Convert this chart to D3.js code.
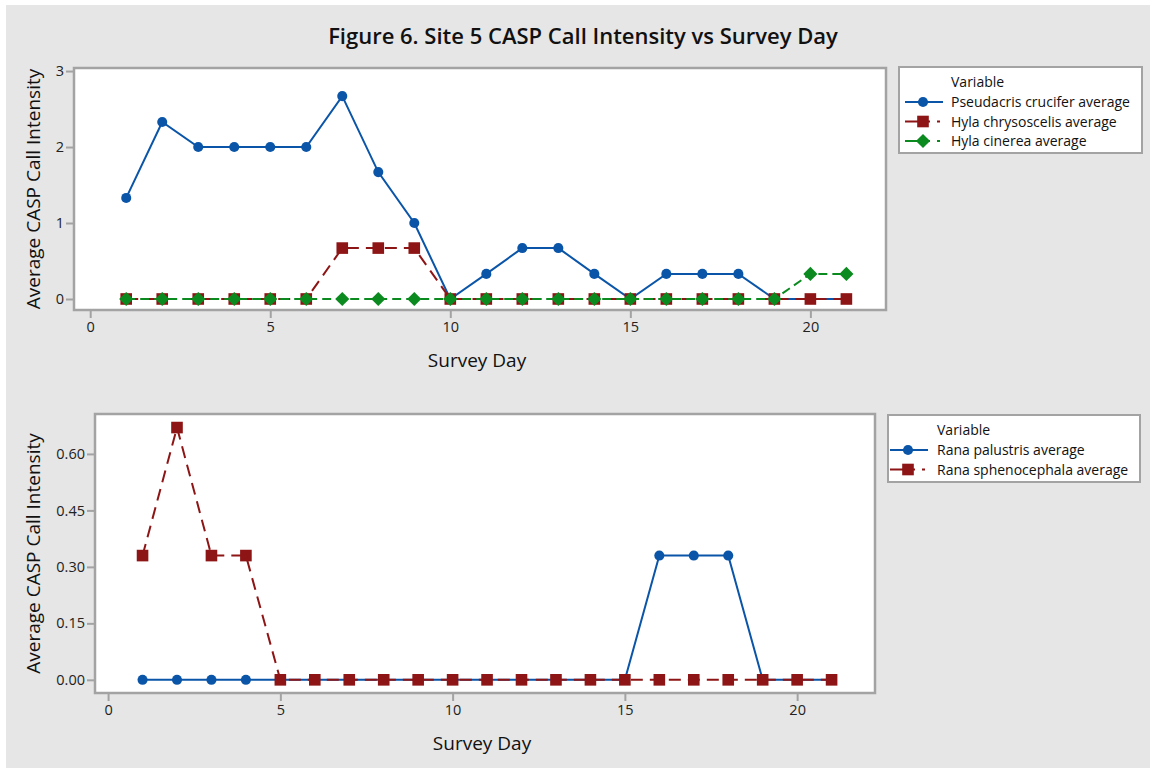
<!DOCTYPE html>
<html>
<head>
<meta charset="utf-8">
<script src="https://cdn.jsdelivr.net/npm/d3@7"></script>
<style>
  body { margin: 0; background: #fff; }
  text { font-family: "Open Sans", "Noto Sans", sans-serif; fill: #111; }
</style>
</head>
<body>
<div id="chart"></div>
<script>
// survey days 1..21
var days = [1,2,3,4,5,6,7,8,9,10,11,12,13,14,15,16,17,18,19,20,21];

// top panel series
var pseudacrisCrucifer = [1.33,2.33,2,2,2,2,2.67,1.67,1,0,0.33,0.67,0.67,0.33,0,0.33,0.33,0.33,0,0,0];
var hylaChrysoscelis   = [0,0,0,0,0,0,0.67,0.67,0.67,0,0,0,0,0,0,0,0,0,0,0,0];
var hylaCinerea        = [0,0,0,0,0,0,0,0,0,0,0,0,0,0,0,0,0,0,0,0.33,0.33];

// bottom panel series
var ranaPalustris      = [0,0,0,0,0,0,0,0,0,0,0,0,0,0,0,0.33,0.33,0.33,0,0,0];
var ranaSphenocephala  = [0.33,0.67,0.33,0.33,0,0,0,0,0,0,0,0,0,0,0,0,0,0,0,0,0];

var xTicks = [0,5,10,15,20];
var yTicksTop = [0,1,2,3];
var yTicksBottom = [0,0.15,0.30,0.45,0.60];

var BLUE = "#0a55a8", RED = "#8e1515", GREEN = "#0b8a1f";

var svg = d3.select("#chart").append("svg")
    .attr("width", 1150).attr("height", 768);

svg.append("rect").attr("x", 6).attr("y", 5).attr("width", 1144).attr("height", 763)
    .attr("fill", "#e6e6e6");

svg.append("text").attr("x", 583).attr("y", 44)
    .attr("text-anchor", "middle")
    .style("font-size", "22px").style("font-weight", 600)
    .text("Figure 6. Site 5 CASP Call Intensity vs Survey Day");

// square diamond (d3's own is stretched)
var squareDiamond = {
    draw: function(ctx, size) {
        var r = Math.sqrt(size / 2);
        ctx.moveTo(0, -r); ctx.lineTo(r, 0); ctx.lineTo(0, r); ctx.lineTo(-r, 0); ctx.closePath();
    }
};

var symbols = {
    circle:  d3.symbol().type(d3.symbolCircle).size(80),
    square:  d3.symbol().type(d3.symbolSquare).size(135),
    diamond: d3.symbol().type(squareDiamond).size(100)
};

function panel(opt) {
    var x = d3.scaleLinear().domain(opt.xDomain).range([opt.left, opt.right]);
    var y = d3.scaleLinear().domain(opt.yDomain).range([opt.bottom, opt.top]);
    var g = svg.append("g");

    g.append("rect")
        .attr("x", opt.left).attr("y", opt.top)
        .attr("width", opt.right - opt.left).attr("height", opt.bottom - opt.top)
        .attr("fill", "#fff").attr("stroke", "#a3a3a3").attr("stroke-width", 2.5);

    var xAxis = g.append("g")
        .attr("transform", "translate(0," + (opt.bottom + 1) + ")")
        .call(d3.axisBottom(x).tickValues(xTicks).tickSize(7).tickSizeOuter(0).tickPadding(4));
    var yAxis = g.append("g")
        .attr("transform", "translate(" + (opt.left - 1) + ",0)")
        .call(d3.axisLeft(y).tickValues(opt.yTicks).tickFormat(opt.yFormat).tickSize(7).tickSizeOuter(0).tickPadding(2));
    [xAxis, yAxis].forEach(function(a) {
        a.select(".domain").remove();
        a.selectAll(".tick line").attr("stroke", "#a3a3a3").attr("stroke-width", 2);
        a.selectAll(".tick text").style("font-size", "14.5px").style("fill", "#222");
    });

    g.append("text")
        .attr("x", (opt.left + opt.right) / 2 - 3).attr("y", opt.bottom + 57)
        .attr("text-anchor", "middle").style("font-size", "19px")
        .text("Survey Day");
    g.append("text")
        .attr("transform", "translate(40," + ((opt.top + opt.bottom) / 2) + ") rotate(-90)")
        .attr("text-anchor", "middle").style("font-size", "19px")
        .text("Average CASP Call Intensity");

    opt.series.forEach(function(s) {
        var line = d3.line().x(function(d, i) { return x(days[i]); }).y(function(d) { return y(d); });
        g.append("path").datum(s.values)
            .attr("d", line).attr("fill", "none")
            .attr("stroke", s.color).attr("stroke-width", 2)
            .attr("stroke-dasharray", s.dash);
        g.selectAll(null).data(s.values).enter().append("path")
            .attr("d", symbols[s.symbol])
            .attr("transform", function(d, i) { return "translate(" + x(days[i]) + "," + y(d) + ")"; })
            .attr("fill", s.color);
    });

    // legend
    var L = opt.legend;
    var lg = svg.append("g");
    lg.append("rect")
        .attr("x", L.x).attr("y", L.y)
        .attr("width", L.w).attr("height", L.h)
        .attr("fill", "#fff").attr("stroke", "#a3a3a3").attr("stroke-width", 2);
    lg.append("text").attr("x", L.textX).attr("y", L.y + 20)
        .style("font-size", "14px").text("Variable");
    opt.series.forEach(function(s, i) {
        var yy = L.y + 35 + i * 19.5;
        lg.append("line").attr("x1", L.lineX).attr("x2", L.lineX + 38)
            .attr("y1", yy).attr("y2", yy)
            .attr("stroke", s.color).attr("stroke-width", 2)
            .attr("stroke-dasharray", s.dash ? "25,7,3,10" : null);
        lg.append("path").attr("d", symbols[s.symbol])
            .attr("transform", "translate(" + (L.lineX + 18) + "," + yy + ")")
            .attr("fill", s.color);
        lg.append("text").attr("x", L.textX).attr("y", yy + 5)
            .style("font-size", "14px").text(s.name);
    });
}

panel({
    left: 74, right: 886, top: 68, bottom: 310,
    xDomain: [-0.45, 22.1], yDomain: [-0.145, 3.04],
    yTicks: yTicksTop, yFormat: d3.format("d"),
    legend: { x: 899, y: 67, w: 243, h: 86, lineX: 905, textX: 951 },
    series: [
        { name: "Pseudacris crucifer average", values: pseudacrisCrucifer, color: BLUE, symbol: "circle", dash: null },
        { name: "Hyla chrysoscelis average", values: hylaChrysoscelis, color: RED, symbol: "square", dash: "12,7" },
        { name: "Hyla cinerea average", values: hylaCinerea, color: GREEN, symbol: "diamond", dash: "9,5" }
    ]
});

panel({
    left: 95, right: 875, top: 414, bottom: 693,
    xDomain: [-0.38, 22.26], yDomain: [-0.035, 0.706],
    yTicks: yTicksBottom, yFormat: d3.format(".2f"),
    legend: { x: 888, y: 415, w: 252, h: 67, lineX: 890, textX: 937 },
    series: [
        { name: "Rana palustris average", values: ranaPalustris, color: BLUE, symbol: "circle", dash: null },
        { name: "Rana sphenocephala average", values: ranaSphenocephala, color: RED, symbol: "square", dash: "12,7" }
    ]
});
</script>
</body>
</html>
